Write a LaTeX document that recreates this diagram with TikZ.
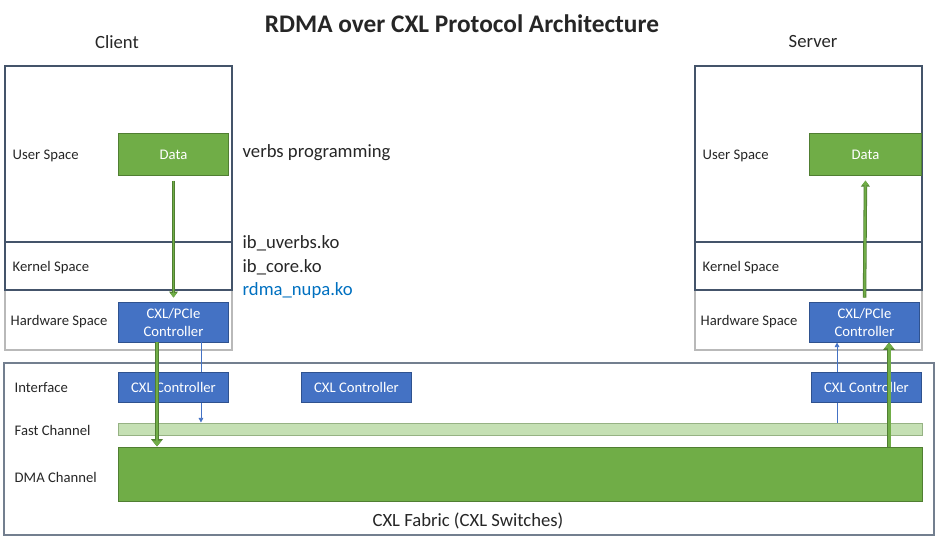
\documentclass[tikz,border=0pt]{standalone}
\usepackage{fontspec}
\setmainfont{Carlito}
\usepackage{tikz}
\usetikzlibrary{arrows.meta}
\definecolor{offblue}{HTML}{4472C4}
\definecolor{offblueline}{HTML}{2F528F}
\definecolor{offgreen}{HTML}{70AD47}
\definecolor{offgreenline}{HTML}{507E32}
\definecolor{palegreen}{HTML}{C5E0B4}
\definecolor{slate}{HTML}{44546A}
\definecolor{linkblue}{HTML}{0070C0}

\begin{document}
\begin{tikzpicture}[x=0.75pt, y=-0.75pt, font=\fontsize{11}{13.5}\selectfont, text=black!85,
  greenbox/.style={draw=offgreenline, fill=offgreen, text=white, line width=0.7pt, inner sep=0pt},
  bluebox/.style={draw=offblueline, fill=offblue, text=white, line width=0.7pt, inner sep=0pt, align=center, minimum width=83pt},
  fastbar/.style={draw=offgreenline!60, fill=palegreen, line width=0.7pt, inner sep=0pt},
  fatarrow/.style={draw=offgreen, line width=2.2pt, -{Triangle[length=4.5pt,width=6.5pt]},
    preaction={draw=offgreenline, line width=3.6pt, -{Triangle[length=5.5pt,width=8.5pt]}}},
  dataarrow/.style={draw=offgreen, line width=1.4pt, -{Triangle[length=3.5pt,width=5pt]},
    preaction={draw=offgreenline, line width=2.6pt, -{Triangle[length=4.5pt,width=6.5pt]}}},
  thinarrow/.style={draw=offblue, line width=0.6pt, -{Triangle[length=3.5pt,width=3.5pt]}},
  biglabel/.style={font=\fontsize{14}{16}\selectfont}]
  \useasboundingbox (0,0) rectangle (936,546);

  \node[font=\fontsize{19}{22}\selectfont\bfseries] (title) at (462,24) {RDMA over CXL Protocol Architecture};
  \node[biglabel] (client) at (117,42) {Client};
  \node[biglabel] (server) at (813,42) {Server};

  % host boxes
  \foreach \bx in {5,695} {
    \draw[gray!55, line width=0.8pt] (\bx,290) rectangle (\bx+227,350);
    \draw[slate, line width=0.8pt] (\bx,66) rectangle (\bx+227,242);
    \draw[slate, line width=0.8pt] (\bx,242) rectangle (\bx+227,290);
    \node[anchor=west] (user\bx) at (\bx+3,156) {User Space};
    \node[anchor=west] (kernel\bx) at (\bx+3,268) {Kernel Space};
    \node[anchor=west] (hw\bx) at (\bx+1,322) {Hardware Space};
  }
  \node[greenbox, minimum width=83pt, minimum height=31pt] (dataC) at (173.5,154.5) {Data};
  \node[greenbox, minimum width=84pt, minimum height=31pt] (dataS) at (865.5,154.5) {Data};
  \node[bluebox, minimum height=30pt] (pcieC) at (173.5,322) {CXL/PCIe\\Controller};
  \node[bluebox, minimum height=30pt] (pcieS) at (864.5,322) {CXL/PCIe\\Controller};

  \node[biglabel, anchor=west] (verbs) at (238,153) {verbs programming};
  \node[biglabel, anchor=west] (uverbs) at (238,243) {ib\_uverbs.ko};
  \node[biglabel, anchor=west] (core) at (238,267) {ib\_core.ko};
  \node[biglabel, anchor=west, text=linkblue] (nupa) at (238,291) {rdma\_nupa.ko};

  % fabric
  \draw[slate!75, line width=0.8pt] (4,363) rectangle (934,535);
  \node[anchor=west] (iface) at (10,388) {Interface};
  \node[anchor=west] (fastlbl) at (10,430) {Fast Channel};
  \node[anchor=west] (dmalbl) at (10,477) {DMA Channel};
  \node[biglabel] (fabric) at (468,521) {CXL Fabric (CXL Switches)};
  \node[fastbar, minimum width=603pt, minimum height=9pt] (fast) at (520,429) {};
  \node[greenbox, minimum width=603pt, minimum height=40.5pt] (dma) at (520,474) {};

  \coordinate (bC) at ([xshift=20.6pt]pcieC.south);
  \draw[thinarrow] (bC) -- (bC |- fast.north);
  \coordinate (bS) at ([xshift=-20.6pt]pcieS.south);
  \draw[thinarrow] (bS |- fast.north) -- (bS);

  \node[bluebox, minimum height=23pt] (ctrlC) at (173.5,387.5) {CXL Controller};
  \node[bluebox, minimum height=22.5pt] (ctrlM) at (356.5,387) {CXL Controller};
  \node[bluebox, minimum height=22.5pt] (ctrlS) at (866.5,387) {CXL Controller};

  \coordinate (gC) at ([xshift=-12.4pt]pcieC.south);
  \draw[fatarrow] (gC) -- (gC |- dma.north);
  \coordinate (gS) at ([xshift=18.4pt]pcieS.south);
  \draw[fatarrow] (gS |- dma.north) -- (gS);

  \draw[dataarrow, shorten <=3.75pt, shorten >=3pt] (dataC.south) -- (pcieC.north);
  \draw[dataarrow, shorten <=3pt, shorten >=3.75pt] (pcieS.north) -- (dataS.south);
\end{tikzpicture}
\end{document}
